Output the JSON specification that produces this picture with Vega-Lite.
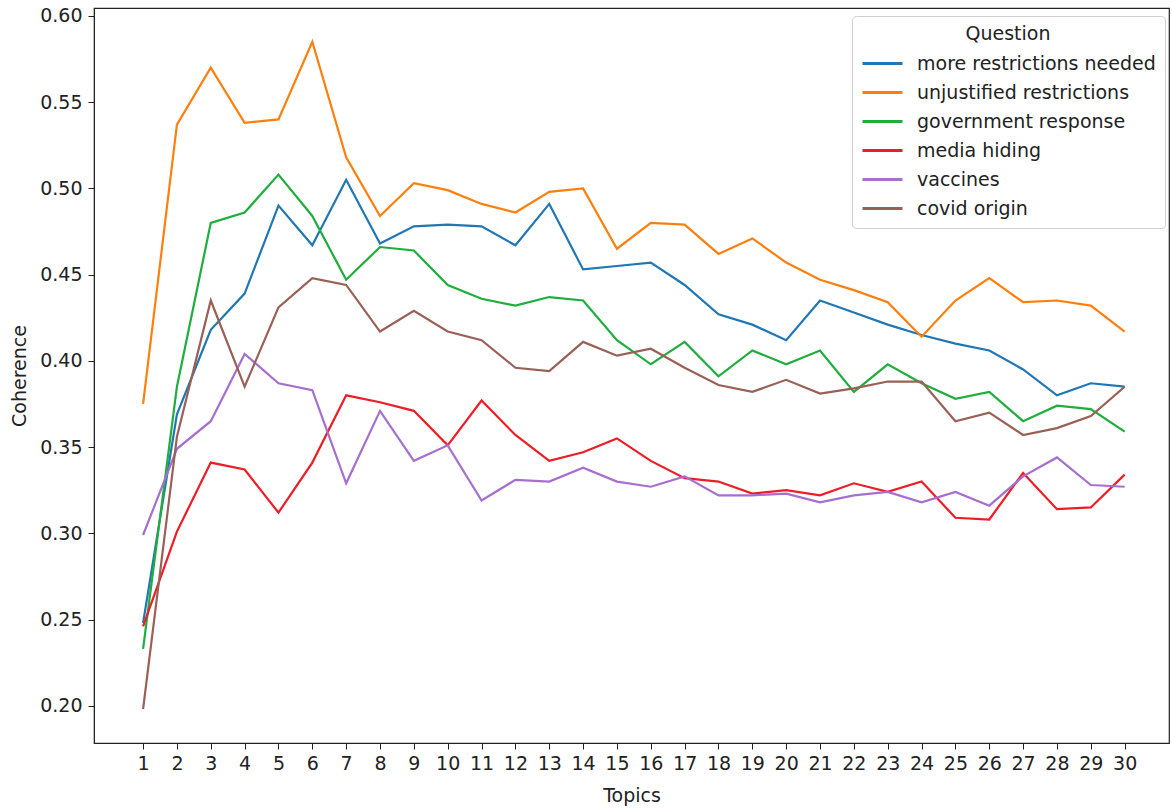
{
  "$schema": "https://vega.github.io/schema/vega-lite/v6.json",
  "width": 1075,
  "height": 735,
  "autosize": {"type": "none"},
  "padding": {"left": 94, "top": 8, "right": 3, "bottom": 65},
  "background": "white",
  "config": {
    "font": "DejaVu Sans",
    "view": {"stroke": "#222", "strokeWidth": 1.2},
    "axis": {"labelFont": "DejaVu Sans", "titleFont": "DejaVu Sans", "labelFontSize": 19, "titleFontSize": 19, "titleFontWeight": "normal", "labelColor": "#222", "titleColor": "#222", "domainColor": "#222", "tickColor": "#222", "tickSize": 6, "grid": false},
    "legend": {"labelFont": "DejaVu Sans", "titleFont": "DejaVu Sans"}
  },
  "data": {"values": [
    {"topic":1,"question":"more restrictions needed","coherence":0.248},
    {"topic":2,"question":"more restrictions needed","coherence":0.369},
    {"topic":3,"question":"more restrictions needed","coherence":0.418},
    {"topic":4,"question":"more restrictions needed","coherence":0.439},
    {"topic":5,"question":"more restrictions needed","coherence":0.490},
    {"topic":6,"question":"more restrictions needed","coherence":0.467},
    {"topic":7,"question":"more restrictions needed","coherence":0.505},
    {"topic":8,"question":"more restrictions needed","coherence":0.468},
    {"topic":9,"question":"more restrictions needed","coherence":0.478},
    {"topic":10,"question":"more restrictions needed","coherence":0.479},
    {"topic":11,"question":"more restrictions needed","coherence":0.478},
    {"topic":12,"question":"more restrictions needed","coherence":0.467},
    {"topic":13,"question":"more restrictions needed","coherence":0.491},
    {"topic":14,"question":"more restrictions needed","coherence":0.453},
    {"topic":15,"question":"more restrictions needed","coherence":0.455},
    {"topic":16,"question":"more restrictions needed","coherence":0.457},
    {"topic":17,"question":"more restrictions needed","coherence":0.444},
    {"topic":18,"question":"more restrictions needed","coherence":0.427},
    {"topic":19,"question":"more restrictions needed","coherence":0.421},
    {"topic":20,"question":"more restrictions needed","coherence":0.412},
    {"topic":21,"question":"more restrictions needed","coherence":0.435},
    {"topic":22,"question":"more restrictions needed","coherence":0.428},
    {"topic":23,"question":"more restrictions needed","coherence":0.421},
    {"topic":24,"question":"more restrictions needed","coherence":0.415},
    {"topic":25,"question":"more restrictions needed","coherence":0.410},
    {"topic":26,"question":"more restrictions needed","coherence":0.406},
    {"topic":27,"question":"more restrictions needed","coherence":0.395},
    {"topic":28,"question":"more restrictions needed","coherence":0.380},
    {"topic":29,"question":"more restrictions needed","coherence":0.387},
    {"topic":30,"question":"more restrictions needed","coherence":0.385},
    {"topic":1,"question":"unjustified restrictions","coherence":0.375},
    {"topic":2,"question":"unjustified restrictions","coherence":0.537},
    {"topic":3,"question":"unjustified restrictions","coherence":0.570},
    {"topic":4,"question":"unjustified restrictions","coherence":0.538},
    {"topic":5,"question":"unjustified restrictions","coherence":0.540},
    {"topic":6,"question":"unjustified restrictions","coherence":0.585},
    {"topic":7,"question":"unjustified restrictions","coherence":0.518},
    {"topic":8,"question":"unjustified restrictions","coherence":0.484},
    {"topic":9,"question":"unjustified restrictions","coherence":0.503},
    {"topic":10,"question":"unjustified restrictions","coherence":0.499},
    {"topic":11,"question":"unjustified restrictions","coherence":0.491},
    {"topic":12,"question":"unjustified restrictions","coherence":0.486},
    {"topic":13,"question":"unjustified restrictions","coherence":0.498},
    {"topic":14,"question":"unjustified restrictions","coherence":0.500},
    {"topic":15,"question":"unjustified restrictions","coherence":0.465},
    {"topic":16,"question":"unjustified restrictions","coherence":0.480},
    {"topic":17,"question":"unjustified restrictions","coherence":0.479},
    {"topic":18,"question":"unjustified restrictions","coherence":0.462},
    {"topic":19,"question":"unjustified restrictions","coherence":0.471},
    {"topic":20,"question":"unjustified restrictions","coherence":0.457},
    {"topic":21,"question":"unjustified restrictions","coherence":0.447},
    {"topic":22,"question":"unjustified restrictions","coherence":0.441},
    {"topic":23,"question":"unjustified restrictions","coherence":0.434},
    {"topic":24,"question":"unjustified restrictions","coherence":0.414},
    {"topic":25,"question":"unjustified restrictions","coherence":0.435},
    {"topic":26,"question":"unjustified restrictions","coherence":0.448},
    {"topic":27,"question":"unjustified restrictions","coherence":0.434},
    {"topic":28,"question":"unjustified restrictions","coherence":0.435},
    {"topic":29,"question":"unjustified restrictions","coherence":0.432},
    {"topic":30,"question":"unjustified restrictions","coherence":0.417},
    {"topic":1,"question":"government response","coherence":0.233},
    {"topic":2,"question":"government response","coherence":0.385},
    {"topic":3,"question":"government response","coherence":0.480},
    {"topic":4,"question":"government response","coherence":0.486},
    {"topic":5,"question":"government response","coherence":0.508},
    {"topic":6,"question":"government response","coherence":0.484},
    {"topic":7,"question":"government response","coherence":0.447},
    {"topic":8,"question":"government response","coherence":0.466},
    {"topic":9,"question":"government response","coherence":0.464},
    {"topic":10,"question":"government response","coherence":0.444},
    {"topic":11,"question":"government response","coherence":0.436},
    {"topic":12,"question":"government response","coherence":0.432},
    {"topic":13,"question":"government response","coherence":0.437},
    {"topic":14,"question":"government response","coherence":0.435},
    {"topic":15,"question":"government response","coherence":0.412},
    {"topic":16,"question":"government response","coherence":0.398},
    {"topic":17,"question":"government response","coherence":0.411},
    {"topic":18,"question":"government response","coherence":0.391},
    {"topic":19,"question":"government response","coherence":0.406},
    {"topic":20,"question":"government response","coherence":0.398},
    {"topic":21,"question":"government response","coherence":0.406},
    {"topic":22,"question":"government response","coherence":0.382},
    {"topic":23,"question":"government response","coherence":0.398},
    {"topic":24,"question":"government response","coherence":0.387},
    {"topic":25,"question":"government response","coherence":0.378},
    {"topic":26,"question":"government response","coherence":0.382},
    {"topic":27,"question":"government response","coherence":0.365},
    {"topic":28,"question":"government response","coherence":0.374},
    {"topic":29,"question":"government response","coherence":0.372},
    {"topic":30,"question":"government response","coherence":0.359},
    {"topic":1,"question":"media hiding","coherence":0.246},
    {"topic":2,"question":"media hiding","coherence":0.301},
    {"topic":3,"question":"media hiding","coherence":0.341},
    {"topic":4,"question":"media hiding","coherence":0.337},
    {"topic":5,"question":"media hiding","coherence":0.312},
    {"topic":6,"question":"media hiding","coherence":0.341},
    {"topic":7,"question":"media hiding","coherence":0.380},
    {"topic":8,"question":"media hiding","coherence":0.376},
    {"topic":9,"question":"media hiding","coherence":0.371},
    {"topic":10,"question":"media hiding","coherence":0.351},
    {"topic":11,"question":"media hiding","coherence":0.377},
    {"topic":12,"question":"media hiding","coherence":0.357},
    {"topic":13,"question":"media hiding","coherence":0.342},
    {"topic":14,"question":"media hiding","coherence":0.347},
    {"topic":15,"question":"media hiding","coherence":0.355},
    {"topic":16,"question":"media hiding","coherence":0.342},
    {"topic":17,"question":"media hiding","coherence":0.332},
    {"topic":18,"question":"media hiding","coherence":0.330},
    {"topic":19,"question":"media hiding","coherence":0.323},
    {"topic":20,"question":"media hiding","coherence":0.325},
    {"topic":21,"question":"media hiding","coherence":0.322},
    {"topic":22,"question":"media hiding","coherence":0.329},
    {"topic":23,"question":"media hiding","coherence":0.324},
    {"topic":24,"question":"media hiding","coherence":0.330},
    {"topic":25,"question":"media hiding","coherence":0.309},
    {"topic":26,"question":"media hiding","coherence":0.308},
    {"topic":27,"question":"media hiding","coherence":0.335},
    {"topic":28,"question":"media hiding","coherence":0.314},
    {"topic":29,"question":"media hiding","coherence":0.315},
    {"topic":30,"question":"media hiding","coherence":0.334},
    {"topic":1,"question":"vaccines","coherence":0.299},
    {"topic":2,"question":"vaccines","coherence":0.349},
    {"topic":3,"question":"vaccines","coherence":0.365},
    {"topic":4,"question":"vaccines","coherence":0.404},
    {"topic":5,"question":"vaccines","coherence":0.387},
    {"topic":6,"question":"vaccines","coherence":0.383},
    {"topic":7,"question":"vaccines","coherence":0.329},
    {"topic":8,"question":"vaccines","coherence":0.371},
    {"topic":9,"question":"vaccines","coherence":0.342},
    {"topic":10,"question":"vaccines","coherence":0.351},
    {"topic":11,"question":"vaccines","coherence":0.319},
    {"topic":12,"question":"vaccines","coherence":0.331},
    {"topic":13,"question":"vaccines","coherence":0.330},
    {"topic":14,"question":"vaccines","coherence":0.338},
    {"topic":15,"question":"vaccines","coherence":0.330},
    {"topic":16,"question":"vaccines","coherence":0.327},
    {"topic":17,"question":"vaccines","coherence":0.333},
    {"topic":18,"question":"vaccines","coherence":0.322},
    {"topic":19,"question":"vaccines","coherence":0.322},
    {"topic":20,"question":"vaccines","coherence":0.323},
    {"topic":21,"question":"vaccines","coherence":0.318},
    {"topic":22,"question":"vaccines","coherence":0.322},
    {"topic":23,"question":"vaccines","coherence":0.324},
    {"topic":24,"question":"vaccines","coherence":0.318},
    {"topic":25,"question":"vaccines","coherence":0.324},
    {"topic":26,"question":"vaccines","coherence":0.316},
    {"topic":27,"question":"vaccines","coherence":0.333},
    {"topic":28,"question":"vaccines","coherence":0.344},
    {"topic":29,"question":"vaccines","coherence":0.328},
    {"topic":30,"question":"vaccines","coherence":0.327},
    {"topic":1,"question":"covid origin","coherence":0.198},
    {"topic":2,"question":"covid origin","coherence":0.356},
    {"topic":3,"question":"covid origin","coherence":0.435},
    {"topic":4,"question":"covid origin","coherence":0.385},
    {"topic":5,"question":"covid origin","coherence":0.431},
    {"topic":6,"question":"covid origin","coherence":0.448},
    {"topic":7,"question":"covid origin","coherence":0.444},
    {"topic":8,"question":"covid origin","coherence":0.417},
    {"topic":9,"question":"covid origin","coherence":0.429},
    {"topic":10,"question":"covid origin","coherence":0.417},
    {"topic":11,"question":"covid origin","coherence":0.412},
    {"topic":12,"question":"covid origin","coherence":0.396},
    {"topic":13,"question":"covid origin","coherence":0.394},
    {"topic":14,"question":"covid origin","coherence":0.411},
    {"topic":15,"question":"covid origin","coherence":0.403},
    {"topic":16,"question":"covid origin","coherence":0.407},
    {"topic":17,"question":"covid origin","coherence":0.396},
    {"topic":18,"question":"covid origin","coherence":0.386},
    {"topic":19,"question":"covid origin","coherence":0.382},
    {"topic":20,"question":"covid origin","coherence":0.389},
    {"topic":21,"question":"covid origin","coherence":0.381},
    {"topic":22,"question":"covid origin","coherence":0.384},
    {"topic":23,"question":"covid origin","coherence":0.388},
    {"topic":24,"question":"covid origin","coherence":0.388},
    {"topic":25,"question":"covid origin","coherence":0.365},
    {"topic":26,"question":"covid origin","coherence":0.370},
    {"topic":27,"question":"covid origin","coherence":0.357},
    {"topic":28,"question":"covid origin","coherence":0.361},
    {"topic":29,"question":"covid origin","coherence":0.368},
    {"topic":30,"question":"covid origin","coherence":0.385}
  ]},
  "mark": {"type": "line", "strokeWidth": 2.2, "clip": true},
  "encoding": {
    "x": {
      "field": "topic", "type": "quantitative", "title": "Topics",
      "scale": {"domain": [-0.45, 31.31], "nice": false, "zero": false},
      "axis": {"values": [1,2,3,4,5,6,7,8,9,10,11,12,13,14,15,16,17,18,19,20,21,22,23,24,25,26,27,28,29,30], "labelPadding": 5, "titlePadding": 13, "labelFlush": false}
    },
    "y": {
      "field": "coherence", "type": "quantitative", "title": "Coherence",
      "scale": {"domain": [0.1784, 0.6046], "nice": false, "zero": false},
      "axis": {"values": [0.2,0.25,0.3,0.35,0.4,0.45,0.5,0.55,0.6], "format": ".2f", "labelPadding": 6, "titlePadding": 10, "labelFlush": false}
    },
    "color": {
      "field": "question", "type": "nominal", "title": "Question",
      "sort": ["more restrictions needed","unjustified restrictions","government response","media hiding","vaccines","covid origin"],
      "scale": {
        "domain": ["more restrictions needed","unjustified restrictions","government response","media hiding","vaccines","covid origin"],
        "range": ["#1f77b4","#ff7f0e","#1fae3d","#ee1c25","#a66fcf","#9a5f55"]
      },
      "legend": {
        "orient": "none", "legendX": 758, "legendY": 8,
        "symbolType": "M-1,0H4", "symbolSize": 256, "symbolStrokeWidth": 3,
        "labelFontSize": 19, "titleFontSize": 19, "titleFontWeight": "normal", "labelLimit": 400,
        "labelColor": "#222", "titleColor": "#222",
        "titleAnchor": "middle", "titlePadding": 10, "labelOffset": 37, "rowPadding": 9,
        "padding": 9, "strokeColor": "#d0d0d0", "fillColor": "white", "cornerRadius": 4
      }
    }
  }
}
